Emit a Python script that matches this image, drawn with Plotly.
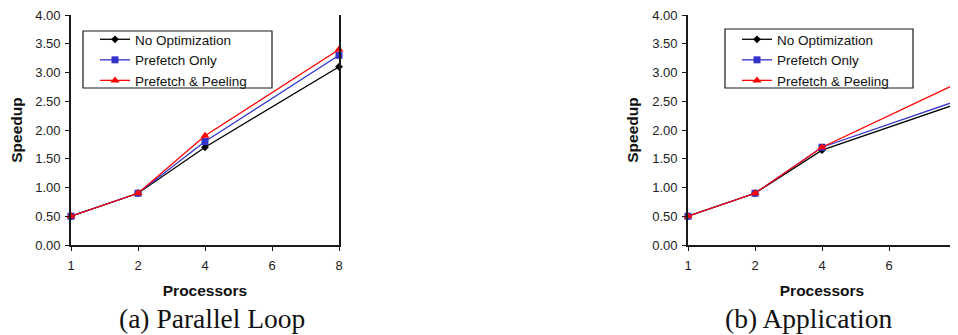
import plotly.graph_objects as go

# ---- data ----
tick_labels = ["1", "2", "4", "6", "8"]
processors = ["1", "2", "4", "8"]
series_names = ["No Optimization", "Prefetch Only", "Prefetch & Peeling"]

loop_no_opt = [0.50, 0.90, 1.70, 3.10]
loop_prefetch = [0.50, 0.90, 1.80, 3.30]
loop_peeling = [0.50, 0.90, 1.90, 3.40]

app_no_opt = [0.50, 0.90, 1.65, 2.45]
app_prefetch = [0.50, 0.90, 1.70, 2.50]
app_peeling = [0.50, 0.90, 1.70, 2.80]

y_ticks = [0.0, 0.5, 1.0, 1.5, 2.0, 2.5, 3.0, 3.5, 4.0]
captions = ["(a) Parallel Loop", "(b) Application"]

# ---- styling ----
OFF = 8  # page body margin
W, H = 958 - OFF, 335 - OFF
colors = ["#000000", "#3333CC", "#FF0000"]
symbols = ["diamond", "square", "triangle-up"]
msizes = [6, 7, 8]
AX = "#1a1a1a"
SANS = "Arial, Liberation Sans, sans-serif"
SERIF = "Times New Roman, Liberation Serif, serif"

xpos = [tick_labels.index(p) for p in processors]
tick_pos = list(range(len(tick_labels)))

def px_x(v):
    return (v - OFF) / W

def px_y(v):
    return 1 - (v - OFF) / H

fig = go.Figure()

panels = [
    ([loop_no_opt, loop_prefetch, loop_peeling], "x", "y", "legend"),
    ([app_no_opt, app_prefetch, app_peeling], "x2", "y2", "legend2"),
]
for vals, xa, ya, lg in panels:
    for i, (name, v) in enumerate(zip(series_names, vals)):
        fig.add_trace(go.Scatter(
            x=xpos, y=v, name=name, mode="lines+markers",
            xaxis=xa, yaxis=ya, legend=lg, cliponaxis=False,
            line=dict(color=colors[i], width=1.3),
            marker=dict(symbol=symbols[i], size=msizes[i], color=colors[i],
                        line=dict(width=0)),
        ))

doms_x = [[px_x(71), px_x(339)], [px_x(688), px_x(956)]]
dom_y = [px_y(245), px_y(15)]

def xaxis_cfg(dom, anchor, overlay=None):
    d = dict(domain=dom, anchor=anchor, range=[0, 4], tickmode="array",
             tickvals=tick_pos, ticktext=tick_labels, showgrid=False,
             zeroline=False, fixedrange=True, automargin=False,
             tickfont=dict(family=SANS, size=13, color="#222"),
             ticklen=4, tickwidth=1.3, tickcolor=AX)
    if overlay:
        d.update(overlaying=overlay, ticks="inside", showticklabels=False,
                 showline=False)
    else:
        d.update(ticks="outside", showline=True, linecolor=AX, linewidth=1.8,
                 ticklabelstandoff=3, ticklabeloverflow="allow",
                 title=dict(text="<b>Processors</b>", standoff=14,
                            font=dict(family=SANS, size=15.5, color="#111")))
    return d

def yaxis_cfg(anchor, overlay=None):
    d = dict(domain=dom_y, anchor=anchor, range=[0, 4], tickmode="array",
             tickvals=y_ticks, tickformat=".2f", showgrid=False,
             zeroline=False, fixedrange=True, automargin=False,
             tickfont=dict(family=SANS, size=13, color="#222"),
             ticklen=4, tickwidth=1.3, tickcolor=AX)
    if overlay:
        d.update(overlaying=overlay, ticks="inside", showticklabels=False,
                 showline=False)
    else:
        d.update(ticks="outside", showline=True, mirror=True, linecolor=AX,
                 linewidth=1.8, ticklabelstandoff=2, ticklabeloverflow="allow",
                 title=dict(text="<b>Speedup</b>", standoff=10,
                            font=dict(family=SANS, size=15.5, color="#111")))
    return d

leg_font = dict(family=SANS, size=13.5, color="#111")
fig.update_layout(
    width=W, height=H,
    margin=dict(l=0, r=0, t=0, b=0, autoexpand=False),
    paper_bgcolor="white", plot_bgcolor="white",
    xaxis=xaxis_cfg(doms_x[0], "y"),
    yaxis=yaxis_cfg("x"),
    xaxis2=xaxis_cfg(doms_x[1], "y2"),
    yaxis2=yaxis_cfg("x2"),
    xaxis3=xaxis_cfg(doms_x[0], "y", overlay="x"),
    yaxis3=yaxis_cfg("x", overlay="y"),
    xaxis4=xaxis_cfg(doms_x[1], "y2", overlay="x2"),
    yaxis4=yaxis_cfg("x2", overlay="y2"),
    legend=dict(x=px_x(95), y=px_y(24), xanchor="left", yanchor="top",
                bgcolor="rgba(0,0,0,0)", borderwidth=0, font=leg_font,
                tracegroupgap=0),
    legend2=dict(x=px_x(737), y=px_y(24), xanchor="left", yanchor="top",
                 bgcolor="rgba(0,0,0,0)", borderwidth=0, font=leg_font,
                 tracegroupgap=0),
    showlegend=True,
)

# legend boxes
for (x0, x1, y0, y1) in [(83, 272, 31, 88), (725, 913, 29, 88)]:
    fig.add_shape(type="rect", xref="paper", yref="paper",
                  x0=px_x(x0), x1=px_x(x1), y0=px_y(y1), y1=px_y(y0),
                  line=dict(color=AX, width=1.2), fillcolor="rgba(0,0,0,0)")

# captions
for cx, text in zip([212, 809], captions):
    fig.add_annotation(text=text, xref="paper", yref="paper",
                       x=px_x(cx), y=px_y(318), xanchor="center", yanchor="middle",
                       showarrow=False,
                       font=dict(family=SERIF, size=27.5, color="#111"))

fig.write_html("out.html")
